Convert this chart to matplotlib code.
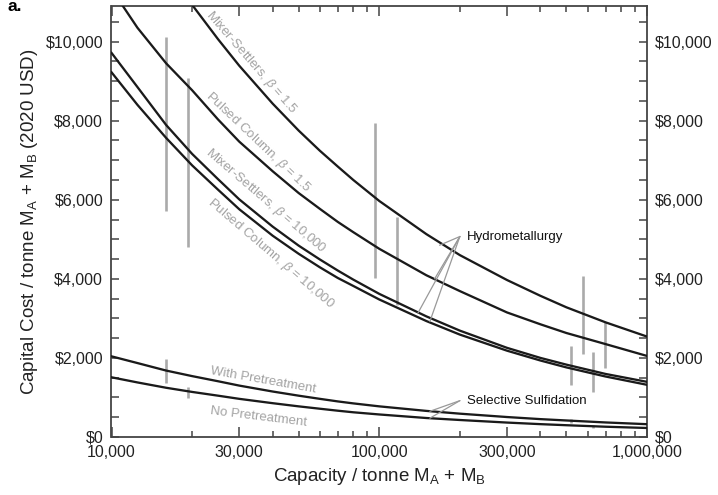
import numpy as np
import matplotlib
matplotlib.use("Agg")
import matplotlib.pyplot as plt
from matplotlib.ticker import FixedLocator, MultipleLocator, FuncFormatter, NullFormatter

plt.rcParams['font.family'] = ['Liberation Sans', 'DejaVu Sans']
plt.rcParams['mathtext.fontset'] = 'custom'
plt.rcParams['mathtext.rm'] = 'Liberation Sans'
plt.rcParams['mathtext.it'] = 'Liberation Sans:italic'

# capacity (tonne M_A + M_B) and capital cost (2020 USD / tonne)
ms_15_x = [20000, 25000, 30000, 40000, 50000, 60000, 70000, 80000, 100000, 150000,
           200000, 300000, 400000, 500000, 700000, 1000000]
ms_15_y = [10930, 10060, 9390, 8430, 7750, 7240, 6840, 6500, 5970, 5130,
           4600, 3970, 3570, 3280, 2900, 2540]

pc_15_x = [11000, 12500, 16000, 20000, 25000, 30000, 40000, 50000, 60000, 70000, 80000,
           100000, 150000, 200000, 300000, 400000, 500000, 700000, 1000000]
pc_15_y = [10910, 10350, 9450, 8770, 8030, 7470, 6720, 6170, 5770, 5440, 5180,
           4760, 4090, 3690, 3150, 2850, 2630, 2350, 2050]

ms_1e4_x = [10000, 12500, 16000, 20000, 25000, 30000, 40000, 50000, 60000, 70000, 80000,
            100000, 150000, 200000, 300000, 400000, 500000, 700000, 1000000]
ms_1e4_y = [9715, 8850, 7890, 7160, 6520, 6010, 5320, 4840, 4490, 4210, 3980,
            3620, 3050, 2690, 2255, 2000, 1830, 1595, 1395]

pc_1e4_x = [10000, 12500, 16000, 20000, 25000, 30000, 40000, 50000, 60000, 70000, 80000,
            100000, 150000, 200000, 300000, 400000, 500000, 700000, 1000000]
pc_1e4_y = [9224, 8400, 7563, 6870, 6254, 5760, 5090, 4634, 4292, 4022, 3820,
            3478, 2932, 2590, 2183, 1934, 1760, 1530, 1320]

wp_x = [10000, 12500, 16000, 20000, 25000, 30000, 40000, 50000, 60000, 70000, 80000,
        100000, 150000, 200000, 300000, 400000, 500000, 700000, 1000000]
wp_y = [2040, 1870, 1680, 1540, 1410, 1300, 1150, 1045, 965, 900, 850,
        775, 660, 590, 505, 452, 418, 368, 324]

np_x = [10000, 12500, 16000, 20000, 25000, 30000, 40000, 50000, 60000, 70000, 80000,
        100000, 150000, 200000, 300000, 400000, 500000, 700000, 1000000]
np_y = [1510, 1380, 1245, 1140, 1045, 965, 855, 775, 715, 665, 625,
        570, 480, 430, 365, 325, 298, 260, 228]

# literature ranges (grey bars)
bar_x = [16000, 19350, 96000, 116000, 520000, 578000, 626000, 697000, 16000, 19350, 520000, 626000]
bar_lo = [5720, 4800, 4020, 3340, 1320, 2100, 1150, 1740, 1375, 980, 360, 220]
bar_hi = [10110, 9080, 7930, 5560, 2290, 4080, 2160, 2920, 1970, 1270, 450, 300]

curve_labels = ["Mixer-Settlers, $\\beta$ = 1.5", "Pulsed Column, $\\beta$ = 1.5",
                "Mixer-Settlers, $\\beta$ = 10,000", "Pulsed Column, $\\beta$ = 10,000",
                "With Pretreatment", "No Pretreatment"]
label_x = [33300, 35400, 37600, 39500, 36800, 35400]
label_y = [9480, 7440, 5975, 4634, 1443, 514]
label_rot = [-49, -43.5, -40.5, -40.5, -10, -7]

hydro_hub = (200000, 5070)
hydro_ends = [(168000, 4850), (161000, 4000), (139600, 3140), (154500, 2920)]
sulf_hub = (200000, 919)
sulf_ends = [(154500, 650), (154500, 475)]

fig = plt.figure(figsize=(7.18, 4.95), dpi=100)
ax = fig.add_axes([111.5 / 718, 1 - 437 / 495, (647 - 111.5) / 718, (437 - 6) / 495])

ax.vlines(bar_x, bar_lo, bar_hi, color='#aaaaaa', lw=1.9, zorder=2)

for xs, ys in [(ms_15_x, ms_15_y), (pc_15_x, pc_15_y), (ms_1e4_x, ms_1e4_y),
               (pc_1e4_x, pc_1e4_y), (wp_x, wp_y), (np_x, np_y)]:
    ax.plot(xs, ys, color='#1a1a1a', lw=1.65, zorder=3, solid_joinstyle='round')

for t, x, y, r in zip(curve_labels, label_x, label_y, label_rot):
    ax.text(x, y, t, rotation=r, rotation_mode='anchor', ha='center', va='center',
            color='#a3a3a3', fontsize=9.5, zorder=4)

for hub, ends, txt in [(hydro_hub, hydro_ends, 'Hydrometallurgy'),
                       (sulf_hub, sulf_ends, 'Selective Sulfidation')]:
    for e in ends:
        ax.annotate('', xy=e, xytext=hub,
                    arrowprops=dict(arrowstyle='-', color='#999999', lw=0.9, shrinkA=0, shrinkB=0))
    ax.text(hub[0] * 1.06, hub[1], txt, ha='left', va='center', fontsize=9.5, color='#111111')

ax.set_xscale('log')
ax.set_xlim(1e4, 1e6)
ax.set_ylim(0, 10900)
ax.xaxis.set_major_locator(FixedLocator([1e4, 3e4, 1e5, 3e5, 1e6]))
ax.xaxis.set_minor_locator(FixedLocator([2e4, 4e4, 5e4, 6e4, 7e4, 8e4, 9e4,
                                         2e5, 4e5, 5e5, 6e5, 7e5, 8e5, 9e5]))
ax.xaxis.set_major_formatter(FuncFormatter(lambda v, p: f'{v:,.0f}'))
ax.xaxis.set_minor_formatter(NullFormatter())
ax.yaxis.set_major_locator(MultipleLocator(2000))
ax.yaxis.set_minor_locator(MultipleLocator(500))
ax.yaxis.set_major_formatter(FuncFormatter(lambda v, p: '\\$' + f'{v:,.0f}'))

ax.tick_params(which='both', direction='in', top=True, right=True, labelright=True,
               labelsize=11.5, colors='#444444', labelcolor='#222222', width=1.1, pad=6)
ax.tick_params(axis='x', which='major', length=7)
ax.tick_params(axis='x', which='minor', length=4)
ax.tick_params(axis='y', which='both', length=6)
for s in ax.spines.values():
    s.set_color('#444444')
    s.set_linewidth(1.3)

ax.set_xlabel('Capacity / tonne M$_\\mathregular{A}$ + M$_\\mathregular{B}$', fontsize=13.5,
              color='#222222', labelpad=4)
ax.set_ylabel('Capital Cost / tonne M$_\\mathregular{A}$ + M$_\\mathregular{B}$ (2020 USD)', fontsize=13.5,
              color='#222222', labelpad=4)

fig.text(7 / 718, 1 - 11 / 495, 'a.', fontsize=12.5, weight='bold', va='baseline', ha='left')

fig.savefig('out.png', dpi=100)
